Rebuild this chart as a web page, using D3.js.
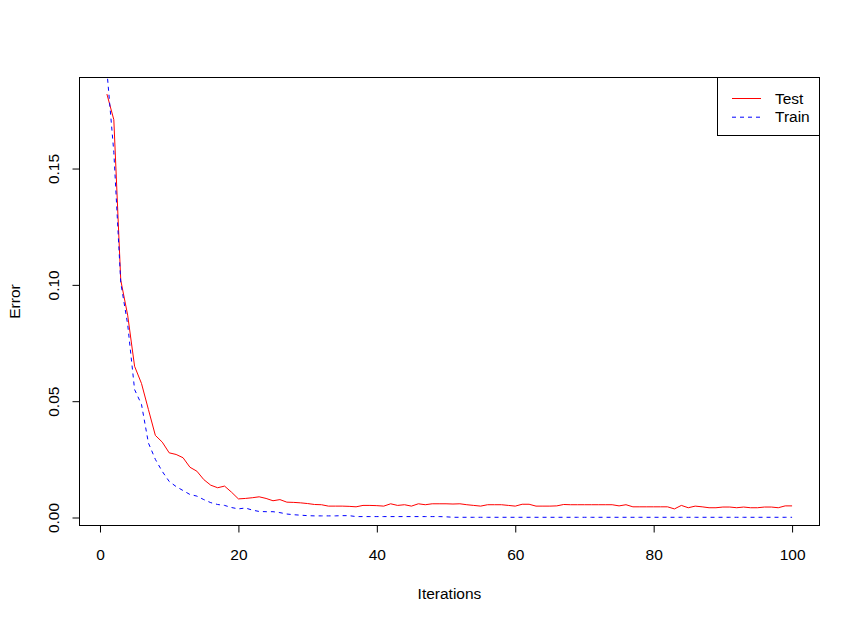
<!DOCTYPE html>
<html><head><meta charset="utf-8">
<script src="https://cdn.jsdelivr.net/npm/d3@7"></script>
<style>body{margin:0;background:#fff}svg text{font-family:"Liberation Sans",Arial,Helvetica,sans-serif}</style>
</head><body>
<script>
const iterations = d3.range(1, 101);
const testError = [0.182,0.171,0.102,0.087,0.065,0.0576,0.0464,0.0353,0.0324,0.0278,
0.0271,0.0257,0.0216,0.0199,0.0163,0.0139,0.0128,0.0135,0.0109,0.0080,
0.0082,0.0085,0.0089,0.0082,0.0072,0.0077,0.0066,0.0065,0.0063,0.0060,
0.0056,0.0055,0.0049,0.0049,0.0049,0.0048,0.0046,0.0052,0.0052,0.0051,
0.0049,0.0059,0.0052,0.0055,0.0049,0.0059,0.0055,0.0059,0.0059,0.0059,
0.0058,0.0059,0.0055,0.0052,0.0049,0.0055,0.0055,0.0055,0.0052,0.0049,
0.0057,0.0057,0.0049,0.0049,0.0049,0.0050,0.0056,0.0055,0.0055,0.0055,
0.0055,0.0055,0.0055,0.0055,0.0050,0.0055,0.0046,0.0046,0.0046,0.0046,
0.0046,0.0046,0.0037,0.0052,0.0042,0.0049,0.0046,0.0042,0.0042,0.0045,
0.0045,0.0042,0.0045,0.0042,0.0042,0.0045,0.0045,0.0042,0.0050,0.0050];
const trainError = [0.192,0.157,0.101,0.083,0.055,0.0486,0.032,0.025,0.0198,0.0155,
0.0133,0.0116,0.0099,0.0092,0.0077,0.0064,0.0056,0.0052,0.0043,0.0037,
0.0041,0.0032,0.0026,0.0025,0.0025,0.0021,0.0015,0.0012,0.0010,0.0008,
0.0007,0.0007,0.0007,0.0007,0.0008,0.0008,0.0004,0.0004,0.0004,0.0004,
0.0004,0.0004,0.0004,0.0004,0.0004,0.0004,0.0004,0.0004,0.0004,0.0003,
0.0001,0.0001,0.0001,0.0001,0.0001,0.0001,0.0001,0.0001,0.0001,0.0001,
0.0001,0.0001,0.0001,0.0001,0.0001,0.0001,0.0001,0.0001,0.0001,0.0001,
0.0001,0.0001,0.0001,0.0001,0.0001,0.0001,0.0001,0.0001,0.0001,0.0001,
0.0001,0.0001,0.0001,0.0001,0.0001,0.0001,0.0001,0.0001,0.0001,0.0001,
0.0001,0.0001,0.0001,0.0001,0.0001,0.0001,0.0001,0.0001,0.0001,0.0001];
const xTicks = [0,20,40,60,80,100];
const yTicks = [0,0.05,0.10,0.15];
const seriesNames = ["Test","Train"];
const seriesColors = ["#FF0000","#0000FF"];

const W = 860, H = 624, FS = 15.5;
const L = 79.5, R = 819.5, T = 77.5, B = 525.5;
const svg = d3.select("body").append("svg").attr("width", W).attr("height", H);

const xe = d3.extent(iterations), xp = (xe[1]-xe[0])*0.04;
const ye = d3.extent(testError), yp = (ye[1]-ye[0])*0.04;
const x = d3.scaleLinear().domain([xe[0]-xp, xe[1]+xp]).range([L, R]);
const y = d3.scaleLinear().domain([ye[0]-yp, ye[1]+yp]).range([B, T]);

svg.append("defs").append("clipPath").attr("id","clip")
  .append("rect").attr("x",L).attr("y",T).attr("width",R-L).attr("height",B-T);

const line = d3.line().x((d,i)=>x(iterations[i])).y(d=>y(d));
const g = svg.append("g").attr("clip-path","url(#clip)");
g.append("path").datum(testError).attr("d",line).attr("fill","none")
  .attr("stroke",seriesColors[0]).attr("stroke-width",1);
g.append("path").datum(trainError).attr("d",line).attr("fill","none")
  .attr("stroke",seriesColors[1]).attr("stroke-width",1).attr("stroke-dasharray","4,4");

svg.append("rect").attr("x",L).attr("y",T).attr("width",R-L).attr("height",B-T)
  .attr("fill","none").attr("stroke","#000").attr("stroke-width",1);

// x axis
const xa = svg.append("g").attr("transform",`translate(0,${B})`)
  .call(d3.axisBottom(x).tickValues(xTicks).tickSize(7).tickFormat(d3.format("d")));
xa.select(".domain").attr("d",`M${x(xTicks[0])},0H${x(xTicks[xTicks.length-1])}`);
xa.selectAll(".tick text").attr("font-size",FS).attr("font-family","Liberation Sans, Arial, sans-serif")
  .attr("fill","#000").attr("y",34.5).attr("dy",null);

// y axis
const ya = svg.append("g").attr("transform",`translate(${L},0)`)
  .call(d3.axisLeft(y).tickValues(yTicks).tickSize(7).tickFormat(d3.format(".2f")));
ya.select(".domain").attr("d",`M0,${y(yTicks[0])}V${y(yTicks[yTicks.length-1])}`);
ya.selectAll(".tick text").attr("font-size",FS).attr("font-family","Liberation Sans, Arial, sans-serif")
  .attr("fill","#000").attr("x",null).attr("dy",null)
  .attr("transform","translate(-20.5,0) rotate(-90)").attr("text-anchor","middle");

svg.append("text").attr("x",(L+R)/2).attr("y",599).attr("text-anchor","middle")
  .attr("font-size",FS).text("Iterations");
svg.append("text").attr("transform",`translate(20,${(T+B)/2}) rotate(-90)`).attr("text-anchor","middle")
  .attr("font-size",FS).text("Error");

// legend
const lg = svg.append("g");
lg.append("rect").attr("x",717.5).attr("y",T).attr("width",R-717.5).attr("height",58)
  .attr("fill","#fff").attr("stroke","#000");
seriesNames.forEach((n,i)=>{
  const yy = 98.5 + i*18.7;
  lg.append("line").attr("x1",732).attr("x2",761).attr("y1",yy).attr("y2",yy)
    .attr("stroke",seriesColors[i]).attr("stroke-dasharray", i===1?"4,4":null);
  lg.append("text").attr("x",775).attr("y",yy+5.2).attr("font-size",FS).text(n);
});
</script>
</body></html>
